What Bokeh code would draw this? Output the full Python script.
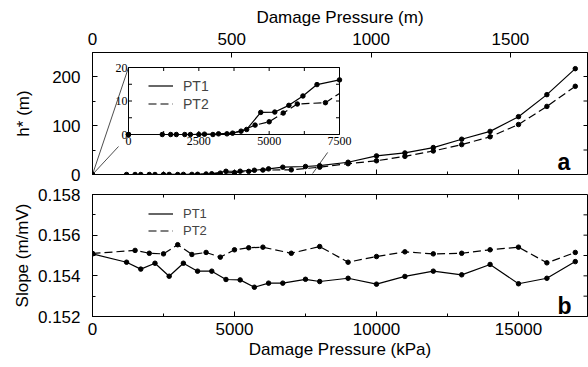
import numpy as np
from bokeh.plotting import figure
from bokeh.layouts import column
from bokeh.models import Range1d, LinearAxis, SingleIntervalTicker, Legend, LegendItem, Label
from bokeh.embed import file_html
from bokeh.resources import INLINE
from bokeh.core.properties import value

# ---------------- data ----------------
pt1_pressure = [0, 1200, 1700, 2200, 2700, 3200, 3700, 4200, 4700, 5200, 5700, 6200,
                6700, 7500, 8000, 9000, 10000, 11000, 12000, 13000, 14000, 15000, 16000, 17000]
pt1_h = [0, 0, 0, 0, 0.1, 0.2, 0.4, 1.5, 6.6, 6.7, 8.7, 11.5,
         14.9, 16.3, 18, 25, 38, 44, 55, 72, 88, 118, 163, 216]
pt1_slope = [0.15508, 0.15467, 0.15433, 0.15462, 0.15398, 0.15462, 0.15423, 0.15423,
             0.15382, 0.15380, 0.15344, 0.15364, 0.15364, 0.15383, 0.15372, 0.15388,
             0.15359, 0.15397, 0.15423, 0.15405, 0.15456, 0.15361, 0.15388, 0.15470]

pt2_pressure = [0, 1500, 2000, 2500, 3000, 3500, 4000, 4500, 5000, 5500, 6000, 7000,
                8000, 9000, 10000, 11000, 12000, 13000, 14000, 15000, 16000, 17000]
pt2_h = [0, 0, 0, 0, 0, 0.2, 1.0, 2.8, 3.8, 6.4, 9.1, 9.5,
         15, 22, 28, 37, 48, 61, 77, 102, 139, 180]
pt2_slope = [0.15510, 0.15525, 0.15511, 0.15508, 0.15553, 0.15505, 0.15515, 0.15492,
             0.15528, 0.15538, 0.15541, 0.15511, 0.15544, 0.15467, 0.15495, 0.15518,
             0.15508, 0.15511, 0.15528, 0.15541, 0.15464, 0.15515]

inset_x_ticks = [0, 2500, 5000, 7500]
inset_y_ticks = [0, 10, 20]

# ---------------- layout constants ----------------
XMAX = 17430.0          # kPa at right frame edge
KPA_PER_M = 9.81
HMAX = 249.0
SMIN, SMAX = 0.152, 0.158
FONT = "Liberation Sans"
SERIF = "Liberation Serif"
FRAME_W = 495.0
FRAME_H = 122.0
INSET_X = 7500.0
INSET_Y = 20.0

kpa_per_px = XMAX / FRAME_W
m_per_px = HMAX / FRAME_H
s_per_px = (SMAX - SMIN) / FRAME_H


def style_axis(ax, major=5, minor=3, size="17px"):
    ax.major_tick_in = major
    ax.major_tick_out = 0
    ax.minor_tick_in = minor
    ax.minor_tick_out = 0
    ax.axis_line_color = "black"
    ax.major_tick_line_color = "black"
    ax.minor_tick_line_color = "black"
    ax.major_label_text_font = FONT
    ax.major_label_text_color = "black"
    ax.major_label_text_font_size = size
    ax.axis_label_text_font = FONT
    ax.axis_label_text_font_style = "normal"
    ax.axis_label_text_font_size = "17px"
    ax.axis_label_text_color = "black"


def mirror_ticks(p, positions, lengths, side, xmax, ymax, xpp, ypp):
    pos = np.asarray(positions, dtype=float)
    ln = np.asarray(lengths, dtype=float)
    if side == "right":
        p.segment(x0=np.full_like(pos, xmax), y0=pos, x1=xmax - ln * xpp, y1=pos,
                  line_color="black", line_width=1)
    elif side == "bottom":
        p.segment(x0=pos, y0=np.zeros_like(pos), x1=pos, y1=ln * ypp,
                  line_color="black", line_width=1)
    elif side == "top":
        p.segment(x0=pos, y0=np.full_like(pos, ymax), x1=pos, y1=ymax - ln * ypp,
                  line_color="black", line_width=1)


# ================= top panel =================
top = figure(width=588, height=184, x_range=Range1d(0, XMAX), y_range=Range1d(0, HMAX),
             output_backend="svg", toolbar_location=None,
             x_axis_location=None, y_axis_location=None,
             min_border_left=92, min_border_right=1, min_border_top=52, min_border_bottom=10)
top.grid.visible = False
top.outline_line_color = "black"
top.background_fill_color = "white"
top.border_fill_color = "white"
top.extra_x_ranges = {"m": Range1d(0, XMAX / KPA_PER_M)}

ax = LinearAxis(ticker=SingleIntervalTicker(interval=100, num_minor_ticks=2), axis_label="h* (m)")
style_axis(ax)
ax.major_label_standoff = 12
ax.axis_label_standoff = 16
top.add_layout(ax, "left")

ax = LinearAxis(x_range_name="m", ticker=SingleIntervalTicker(interval=500, num_minor_ticks=0),
                axis_label="Damage Pressure (m)")
style_axis(ax)
ax.major_label_standoff = 8
ax.axis_label_standoff = 3
top.add_layout(ax, "above")

# mirrored ticks (right side and bottom side of top panel)
mirror_ticks(top, [50, 100, 150, 200], [4, 4, 4, 4], "right", XMAX, HMAX, kpa_per_px, m_per_px)
mirror_ticks(top, [2500, 5000, 7500, 10000, 12500, 15000], [3, 5, 3, 5, 3, 5], "bottom",
             XMAX, HMAX, kpa_per_px, m_per_px)

r1 = top.line(pt1_pressure, pt1_h, line_color="black", line_width=1.2)
top.scatter(pt1_pressure, pt1_h, size=4.5, color="black")
r2 = top.line(pt2_pressure, pt2_h, line_color="black", line_width=1.2, line_dash="8 4")
top.scatter(pt2_pressure, pt2_h, size=4.5, color="black")

# inset placement in parent data units
ix0, ix1 = 36 * kpa_per_px, 247 * kpa_per_px
iy0, iy1 = 40 * m_per_px, 107 * m_per_px

# connector lines
top.line([0, ix0], [0, iy1], line_color="black", line_width=0.7)
top.line([0, 26 * kpa_per_px], [0, 28 * m_per_px], line_color="black", line_width=0.7)
top.line([7750, 8280], [2, 45], line_color="black", line_width=0.7)

sub = top.subplot(x_source=Range1d(0, INSET_X), y_source=Range1d(0, INSET_Y),
                  x_target=Range1d(ix0, ix1), y_target=Range1d(iy0, iy1))
sub.quad(left=0, right=INSET_X, bottom=0, top=INSET_Y, fill_color="white",
         line_color="black", line_width=1)

# inset ticks (inward)
px_x = 211.0 / INSET_X
px_y = 67.0 / INSET_Y
tl = 3.5
tx = np.arange(0, INSET_X + 1, 1250.0)
sub.segment(x0=tx, y0=np.zeros_like(tx), x1=tx, y1=np.full_like(tx, tl / px_y), line_color="black", line_width=1)
sub.segment(x0=tx, y0=np.full_like(tx, INSET_Y), x1=tx, y1=np.full_like(tx, INSET_Y - tl / px_y), line_color="black", line_width=1)
ty = np.arange(0, INSET_Y + 0.1, 5.0)
sub.segment(x0=np.zeros_like(ty), y0=ty, x1=np.full_like(ty, tl / px_x), y1=ty, line_color="black", line_width=1)
sub.segment(x0=np.full_like(ty, INSET_X), y0=ty, x1=np.full_like(ty, INSET_X - tl / px_x), y1=ty, line_color="black", line_width=1)

sub.text(x=inset_x_ticks, y=[0] * len(inset_x_ticks), text=[str(t) for t in inset_x_ticks],
         text_font=value(SERIF), text_font_size="12px", text_align="center",
         text_baseline="top", y_offset=2, text_color="black")
sub.text(x=[0] * len(inset_y_ticks), y=inset_y_ticks, text=[str(t) for t in inset_y_ticks],
         text_font=value(SERIF), text_font_size="12px", text_align="right",
         text_baseline="middle", x_offset=-1, text_color="black")

# inset data (clipped at inset right edge)
p1 = np.array(pt1_pressure, dtype=float); h1 = np.array(pt1_h, dtype=float)
p2 = np.array(pt2_pressure, dtype=float); h2 = np.array(pt2_h, dtype=float)
m1 = p1 <= INSET_X
m2 = p2 <= INSET_X
lx1 = list(p1[m1]); ly1 = list(h1[m1])
if lx1[-1] < INSET_X:
    lx1.append(INSET_X); ly1.append(float(np.interp(INSET_X, p1, h1)))
lx2 = list(p2[m2]); ly2 = list(h2[m2])
if lx2[-1] < INSET_X:
    lx2.append(INSET_X); ly2.append(float(np.interp(INSET_X, p2, h2)))
sub.line(lx1, ly1, line_color="black", line_width=1.2)
sub.scatter(p1[m1], h1[m1], size=4.5, color="black")
sub.line(lx2, ly2, line_color="black", line_width=1.2, line_dash="8 4")
sub.scatter(p2[m2], h2[m2], size=4.5, color="black")

leg_top = Legend(items=[LegendItem(label="PT1", renderers=[r1]), LegendItem(label="PT2", renderers=[r2])],
                 location=(56, 62), padding=0, margin=0, spacing=1, glyph_width=25, glyph_height=17,
                 label_height=17, label_standoff=10, label_text_font=FONT, label_text_font_size="14px",
                 border_line_color=None, background_fill_alpha=0)
top.add_layout(leg_top, "center")

top.add_layout(Label(x=16373, y=24.5, text="a", text_font=FONT, text_font_size="23px",
                     text_font_style="bold", text_baseline="alphabetic", text_color="black"))

# ================= bottom panel =================
bot = figure(width=588, height=183, x_range=Range1d(0, XMAX), y_range=Range1d(SMIN, SMAX),
             output_backend="svg", toolbar_location=None,
             x_axis_location=None, y_axis_location=None,
             min_border_left=92, min_border_right=1, min_border_top=10, min_border_bottom=51)
bot.grid.visible = False
bot.outline_line_color = "black"
bot.background_fill_color = "white"
bot.border_fill_color = "white"

ax = LinearAxis(ticker=SingleIntervalTicker(interval=0.002, num_minor_ticks=2), axis_label="Slope (m/mV)")
style_axis(ax)
ax.major_label_standoff = 12
ax.axis_label_standoff = 3
bot.add_layout(ax, "left")

ax = LinearAxis(ticker=SingleIntervalTicker(interval=5000, num_minor_ticks=2), axis_label="Damage Pressure (kPa)")
style_axis(ax)
ax.major_label_standoff = 6
ax.axis_label_standoff = 2
bot.add_layout(ax, "below")

mirror_ticks(bot, [0.153, 0.154, 0.155, 0.156, 0.157], [4] * 5, "right", XMAX, SMAX, kpa_per_px, s_per_px)
mirror_ticks(bot, [2500, 5000, 7500, 10000, 12500, 15000], [3, 5, 3, 5, 3, 5], "top",
             XMAX, SMAX, kpa_per_px, s_per_px)

s1 = bot.line(pt1_pressure, pt1_slope, line_color="black", line_width=1.2)
bot.scatter(pt1_pressure, pt1_slope, size=4.5, color="black")
s2 = bot.line(pt2_pressure, pt2_slope, line_color="black", line_width=1.2, line_dash="8 4")
bot.scatter(pt2_pressure, pt2_slope, size=4.5, color="black")

leg_bot = Legend(items=[LegendItem(label="PT1", renderers=[s1]), LegendItem(label="PT2", renderers=[s2])],
                 location=(56, 77), padding=0, margin=0, spacing=0, glyph_width=25, glyph_height=17,
                 label_height=17, label_standoff=10, label_text_font=FONT, label_text_font_size="13px",
                 border_line_color=None, background_fill_alpha=0)
bot.add_layout(leg_bot, "center")

bot.add_layout(Label(x=16373, y=0.15254, text="b", text_font=FONT, text_font_size="23px",
                     text_font_style="bold", text_baseline="alphabetic", text_color="black"))

layout = column(top, bot, spacing=0)
open("out.html", "w").write(file_html(layout, INLINE))
